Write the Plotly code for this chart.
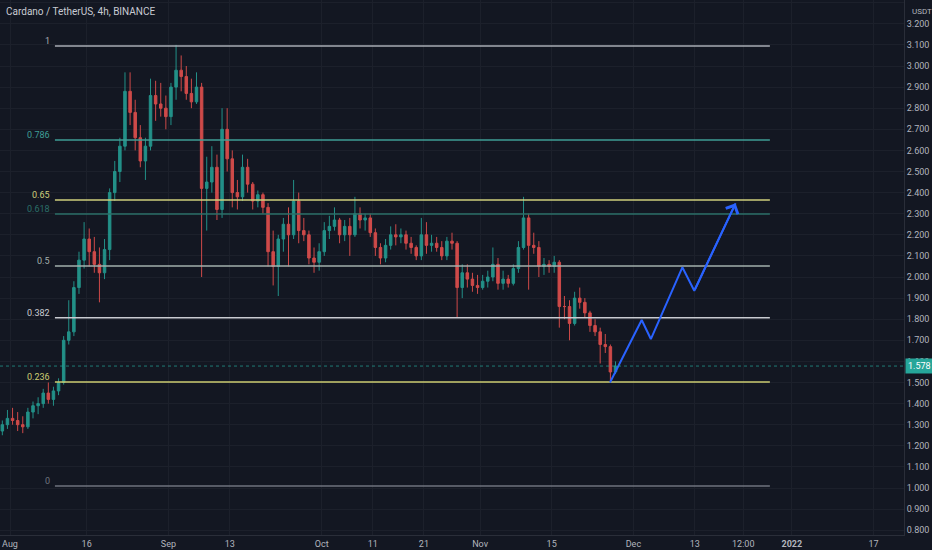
import pandas as pd
import plotly.graph_objects as go

TITLE = "Cardano / TetherUS, 4h, BINANCE"
BG = "#131722"
GRID = "#1c202b"
TEXT = "#b2b5be"
UP = "#26a69a"
DOWN = "#ef5350"
PROJ = "#2962ff"

# daily candles (Jul 30 .. Nov 27 2021)
days = pd.date_range("2021-07-30", "2021-11-27", freq="D")

opens = [
    1.27, 1.30,
    1.33, 1.32, 1.30, 1.29, 1.36, 1.39, 1.40, 1.45, 1.42, 1.46,
    1.50, 1.70, 1.74, 1.95, 2.08, 2.18, 2.12, 2.06, 2.02, 2.13,
    2.40, 2.50, 2.62, 2.88, 2.78, 2.66, 2.55, 2.62, 2.86, 2.82, 2.80,
    2.76, 2.90, 2.98, 2.95, 2.87, 2.83, 2.90, 2.42, 2.45, 2.52,
    2.32, 2.70, 2.56, 2.40, 2.38, 2.52, 2.44, 2.36, 2.39, 2.33,
    2.12, 2.05, 2.18, 2.25, 2.20, 2.36, 2.22, 2.20, 2.09, 2.07,
    2.12, 2.22, 2.24, 2.27, 2.20, 2.24, 2.20, 2.30, 2.27, 2.28,
    2.21, 2.14, 2.09, 2.15, 2.20, 2.19, 2.20, 2.16, 2.14, 2.10,
    2.20, 2.15, 2.16, 2.14, 2.10, 2.17, 2.16, 1.95, 2.02, 1.99, 1.96,
    1.95, 1.98, 2.00, 2.06, 1.97, 1.99, 1.97, 2.04, 2.14, 2.28,
    2.15, 2.14, 2.05, 2.06, 2.05, 2.07, 1.86, 1.86, 1.78, 1.90,
    1.88, 1.83, 1.77, 1.74, 1.68, 1.67, 1.55,
]
highs = [
    1.32, 1.37,
    1.38, 1.36, 1.34, 1.38, 1.41, 1.43, 1.47, 1.50, 1.48, 1.52,
    1.72, 1.89, 1.98, 2.12, 2.26, 2.23, 2.19, 2.14, 2.18, 2.42,
    2.55, 2.66, 2.97, 2.97, 2.84, 2.72, 2.66, 2.94, 2.93, 2.92, 2.86,
    2.92, 3.10, 3.05, 3.00, 2.94, 2.97, 2.92, 2.57, 2.62, 2.58,
    2.80, 2.80, 2.60, 2.46, 2.58, 2.56, 2.45, 2.41, 2.40, 2.35,
    2.22, 2.20, 2.28, 2.33, 2.46, 2.40, 2.28, 2.22, 2.14, 2.16,
    2.26, 2.29, 2.33, 2.28, 2.27, 2.28, 2.38, 2.33, 2.30, 2.30,
    2.23, 2.16, 2.18, 2.24, 2.25, 2.23, 2.22, 2.19, 2.15, 2.28,
    2.26, 2.20, 2.19, 2.17, 2.19, 2.21, 2.17, 2.06, 2.06, 2.02, 2.01,
    2.01, 2.03, 2.14, 2.09, 2.03, 2.01, 2.06, 2.17, 2.38, 2.30,
    2.21, 2.17, 2.09, 2.08, 2.10, 2.08, 1.91, 1.89, 1.93, 1.95,
    1.90, 1.84, 1.80, 1.76, 1.73, 1.68, 1.60,
]
lows = [
    1.25, 1.28,
    1.30, 1.27, 1.26, 1.28, 1.33, 1.35, 1.38, 1.40, 1.39, 1.44,
    1.49, 1.68, 1.72, 1.92, 2.04, 2.05, 2.02, 1.88, 1.99, 2.08,
    2.36, 2.45, 2.60, 2.72, 2.60, 2.52, 2.46, 2.60, 2.74, 2.76, 2.70,
    2.72, 2.84, 2.88, 2.84, 2.80, 2.82, 2.00, 2.22, 2.40, 2.27,
    2.28, 2.50, 2.33, 2.32, 2.36, 2.40, 2.32, 2.33, 2.30, 2.05,
    1.96, 1.91, 2.12, 2.05, 2.18, 2.16, 2.17, 2.06, 2.02, 2.03,
    2.10, 2.18, 2.22, 2.16, 2.17, 2.10, 2.19, 2.23, 2.22, 2.19,
    2.10, 2.06, 2.07, 2.13, 2.15, 2.16, 2.13, 2.11, 2.08, 2.08,
    2.11, 2.12, 2.12, 2.08, 2.08, 2.13, 1.81, 1.90, 1.95, 1.93, 1.92,
    1.94, 1.95, 1.98, 1.94, 1.94, 1.95, 1.96, 2.02, 2.13, 1.94,
    2.11, 2.00, 2.01, 2.02, 2.02, 1.76, 1.80, 1.70, 1.77, 1.85,
    1.81, 1.74, 1.72, 1.59, 1.64, 1.50, 1.54,
]
closes = [
    1.30, 1.33,
    1.32, 1.30, 1.29, 1.36, 1.39, 1.40, 1.45, 1.42, 1.46, 1.50,
    1.70, 1.74, 1.95, 2.08, 2.18, 2.12, 2.06, 2.02, 2.13, 2.40,
    2.50, 2.62, 2.88, 2.78, 2.66, 2.55, 2.62, 2.86, 2.82, 2.80, 2.76,
    2.90, 2.98, 2.95, 2.87, 2.83, 2.90, 2.42, 2.45, 2.52, 2.32,
    2.70, 2.56, 2.40, 2.38, 2.52, 2.44, 2.36, 2.39, 2.33, 2.12,
    2.05, 2.18, 2.25, 2.20, 2.36, 2.22, 2.20, 2.09, 2.07, 2.12,
    2.22, 2.24, 2.27, 2.20, 2.24, 2.20, 2.30, 2.27, 2.28, 2.21,
    2.14, 2.09, 2.15, 2.20, 2.19, 2.20, 2.16, 2.14, 2.10, 2.20,
    2.15, 2.16, 2.14, 2.10, 2.17, 2.16, 1.95, 2.02, 1.99, 1.96, 1.95,
    1.98, 2.00, 2.06, 1.97, 1.99, 1.97, 2.04, 2.14, 2.28, 2.15,
    2.14, 2.05, 2.06, 2.05, 2.07, 1.86, 1.86, 1.78, 1.90, 1.88,
    1.83, 1.77, 1.74, 1.68, 1.67, 1.55, 1.578,
]
last_price = 1.578

# fibonacci retracement drawn on the chart
fib_low = 1.01
fib_high = 3.095
fib_ratios = [1, 0.786, 0.65, 0.618, 0.5, 0.382, 0.236, 0]
fib_labels = ["1", "0.786", "0.65", "0.618", "0.5", "0.382", "0.236", "0"]
fib_colors = ["#a9acb4", "#3f9e96", "#cfcf7c", "#2b6f69",
              "#a3b0ac", "#c9cbd1", "#cdcd72", "#6f737e"]
fib_start = "2021-08-09 19:00"
fib_end = "2021-12-27 17:00"

# hand drawn projection path
proj_dates = ["2021-11-26 10:00", "2021-12-02 15:00", "2021-12-04 10:00",
              "2021-12-10 14:00", "2021-12-12 22:00", "2021-12-21 00:00"]
proj_prices = [1.50, 1.796, 1.706, 2.046, 1.935, 2.349]

price_ticks = [0.8, 0.9, 1.0, 1.1, 1.2, 1.3, 1.4, 1.5, 1.6, 1.7, 1.8, 1.9, 2.0,
               2.1, 2.2, 2.3, 2.4, 2.5, 2.6, 2.7, 2.8, 2.9, 3.0, 3.1, 3.2, 3.3]
date_ticks = ["2021-08-01", "2021-08-16", "2021-09-01", "2021-09-13", "2021-10-01",
              "2021-10-11", "2021-10-21", "2021-11-01", "2021-11-15", "2021-12-01",
              "2021-12-13", "2021-12-22 12:00", "2022-01-01", "2022-01-17"]
date_labels = ["Aug", "16", "Sep", "13", "Oct", "11", "21", "Nov", "15", "Dec",
               "13", "12:00", "<b>2022</b>", "17"]

x_range = ["2021-07-30 01:00", "2022-01-22 23:00"]
y_range = [0.7773, 3.3128]


def _fib_price(ratio: float) -> float:
    return fib_low + ratio * (fib_high - fib_low)


fig = go.Figure()

fig.add_trace(go.Candlestick(
    x=days + pd.Timedelta(hours=12),
    open=opens, high=highs, low=lows, close=closes,
    increasing=dict(line=dict(color=UP, width=1), fillcolor=UP),
    decreasing=dict(line=dict(color=DOWN, width=1), fillcolor=DOWN),
    whiskerwidth=0,
    opacity=0.85,
    hoverinfo="skip",
    showlegend=False,
))

for ratio, label, color in zip(fib_ratios, fib_labels, fib_colors):
    level = _fib_price(ratio)
    fig.add_trace(go.Scatter(
        x=[fib_start, fib_end], y=[level, level],
        mode="lines", line=dict(color=color, width=1.5),
        hoverinfo="skip", showlegend=False,
    ))
    fig.add_annotation(
        x=fib_start, y=level, text=label, showarrow=False,
        xanchor="right", yanchor="middle", xshift=-3, yshift=5,
        font=dict(size=9, color=color),
    )

fig.add_trace(go.Scatter(
    x=proj_dates, y=proj_prices, mode="lines",
    line=dict(color=PROJ, width=2), hoverinfo="skip", showlegend=False,
))
fig.add_annotation(
    x=proj_dates[-1], y=proj_prices[-1], ax=proj_dates[-2], ay=proj_prices[-2],
    axref="x", ayref="y", xref="x", yref="y", text="",
    showarrow=True, arrowhead=4, arrowsize=1.3, arrowwidth=2, arrowcolor=PROJ,
)

# last price line and tag
fig.add_shape(type="line", xref="paper", x0=0, x1=1, yref="y", y0=last_price, y1=last_price,
              line=dict(color=UP, width=1, dash="dot"), opacity=0.7)
fig.add_annotation(
    xref="paper", x=1, y=last_price, text="%.3f" % last_price, showarrow=False,
    xanchor="left", yanchor="middle", xshift=1, bgcolor=UP, borderpad=2,
    font=dict(size=9, color="#ffffff"),
)

fig.add_annotation(
    xref="paper", yref="paper", x=0, y=1, text=TITLE, showarrow=False,
    xanchor="left", yanchor="middle", xshift=4, yshift=-11,
    font=dict(size=10, color="#c8cbd3"),
)
fig.add_annotation(
    xref="paper", yref="paper", x=1, y=1, text="USDT", showarrow=False,
    xanchor="left", yanchor="middle", xshift=6, yshift=-11,
    font=dict(size=8, color=TEXT),
)

fig.update_layout(
    width=932, height=550,
    margin=dict(l=0, r=28, t=0, b=15),
    paper_bgcolor=BG, plot_bgcolor=BG,
    font=dict(family="Roboto, sans-serif", size=9, color=TEXT),
    showlegend=False,
    hovermode=False,
)
fig.update_xaxes(
    type="date", range=x_range, rangeslider_visible=False,
    tickvals=date_ticks, ticktext=date_labels, tickangle=0,
    showgrid=True, gridcolor=GRID, gridwidth=1, zeroline=False,
    showline=True, linecolor="#2a2e39", linewidth=1, ticks="",
    tickfont=dict(size=9, color=TEXT),
)
fig.update_yaxes(
    range=y_range, side="right",
    tickvals=price_ticks, tickformat=".3f",
    showgrid=True, gridcolor=GRID, gridwidth=1, zeroline=False,
    showline=True, linecolor="#2a2e39", linewidth=1, ticks="",
    tickfont=dict(size=9, color=TEXT),
)

# the page body has a default 8px margin; drop it so the chart fills the window
fig.write_html(
    "out.html",
    config={"displayModeBar": False},
    post_script="document.body.style.margin='0';document.body.style.background='%s';" % BG,
)
